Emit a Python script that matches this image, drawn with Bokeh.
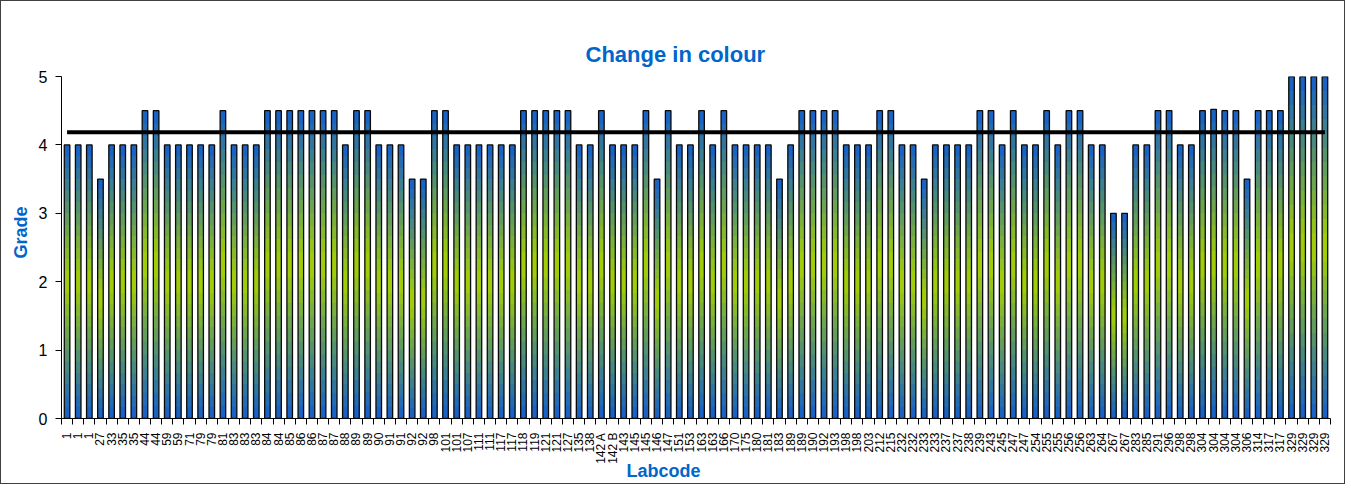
import numpy as np
from bokeh.plotting import figure
from bokeh.models import FixedTicker, Range1d, ColumnDataSource, Title
from bokeh.embed import file_html
from bokeh.resources import INLINE

labcodes = ["1", "1", "1", "27", "33", "35", "35", "44", "44", "59", "59", "71", "79", "79", "81", "83", "83", "83",
            "84", "84", "85", "86", "86", "87", "87", "88", "89", "89", "90", "91", "91", "92", "92", "98", "101", "101", "107",
            "111", "111", "117", "117", "118", "119", "121", "121", "127", "135", "138", "142 A", "142 B", "143", "145", "145", "146", "147", "151",
            "153", "163", "163", "166", "170", "175", "180", "181", "183", "189", "189", "190", "192", "193", "198", "198", "203", "212", "215",
            "232", "232", "233", "233", "237", "237", "238", "239", "243", "245", "247", "247", "254", "255", "255", "256", "256", "263", "264",
            "267", "267", "283", "285", "291", "296", "298", "298", "304", "304", "304", "304", "306", "314", "317", "317", "329", "329", "329", "329"]

grades = [4, 4, 4, 3.5, 4, 4, 4, 4.5, 4.5, 4, 4, 4, 4, 4, 4.5, 4, 4, 4,
          4.5, 4.5, 4.5, 4.5, 4.5, 4.5, 4.5, 4, 4.5, 4.5, 4, 4, 4, 3.5, 3.5, 4.5, 4.5, 4, 4,
          4, 4, 4, 4, 4.5, 4.5, 4.5, 4.5, 4.5, 4, 4, 4.5, 4, 4, 4, 4.5, 3.5, 4.5, 4,
          4, 4.5, 4, 4.5, 4, 4, 4, 4, 3.5, 4, 4.5, 4.5, 4.5, 4.5, 4, 4, 4, 4.5, 4.5,
          4, 4, 3.5, 4, 4, 4, 4, 4.5, 4.5, 4, 4.5, 4, 4, 4.5, 4, 4.5, 4.5, 4, 4,
          3, 3, 4, 4, 4.5, 4.5, 4, 4, 4.5, 4.52, 4.5, 4.5, 3.5, 4.5, 4.5, 4.5, 5, 5, 5, 5]

title_text = "Change in colour"
x_title = "Labcode"
y_title = "Grade"
y_ticks = [0, 1, 2, 3, 4, 5]

n = len(grades)
idx = np.arange(n)
mean_grade = float(np.mean(grades))

BLUE = np.array([18, 94, 205])
GREEN = np.array([165, 210, 0])
K = 24
xs, bottoms, tops, colors = [], [], [], []
for i, g in enumerate(grades):
    for j in range(K):
        mid = (j + 0.5) / K
        t = 1 - abs(2 * mid - 1)
        c = BLUE * (1 - t) + GREEN * t
        xs.append(i)
        bottoms.append(g * j / K)
        tops.append(min(g, g * (j + 1) / K + 0.03))
        colors.append("#%02x%02x%02x" % tuple(int(round(v)) for v in c))
grad_src = ColumnDataSource(dict(x=xs, bottom=bottoms, top=tops, color=colors))
bar_src = ColumnDataSource(dict(x=idx, top=grades))

BLUE_TXT = "#0066cc"

p = figure(width=1345, height=484, output_backend="svg", toolbar_location=None,
           x_range=Range1d(-0.5, n - 0.5), y_range=Range1d(0, 5),
           min_border_left=60, min_border_right=16, min_border_top=75, min_border_bottom=67,
           styles={"border": "1px solid #404040"})
p.background_fill_color = "white"
p.border_fill_color = "white"
p.outline_line_color = None
p.xgrid.grid_line_color = None
p.ygrid.grid_line_color = None

p.title.text = title_text
p.title.align = "left"
p.title.offset = 524
p.title.standoff = 19
p.title.text_font = "Liberation Sans"
p.title.text_font_style = "bold"
p.title.text_font_size = "22px"
p.title.text_color = BLUE_TXT

x_title_obj = Title(text=x_title, align="left", offset=565,
                    text_font="Liberation Sans", text_font_style="bold",
                    text_font_size="18px", text_color=BLUE_TXT)
try:
    x_title_obj.standoff = -16
except Exception:
    x_title_obj.standoff = 0
p.add_layout(x_title_obj, "below")
p.add_layout(Title(text=y_title, align="right", offset=130, standoff=10,
                   text_font="Liberation Sans", text_font_style="bold",
                   text_font_size="18px", text_color=BLUE_TXT), "left")

p.vbar(x="x", bottom="bottom", top="top", width=0.5, source=grad_src,
       fill_color="color", line_color=None)
p.vbar(x="x", top="top", width=0.5, source=bar_src, fill_color=None,
       line_color="#0a0a0a", line_width=1.3)
p.line(x=[0, n - 1], y=[mean_grade, mean_grade], line_color="black", line_width=4)

xa = p.xaxis[0]
xa.ticker = FixedTicker(ticks=list(range(n)), minor_ticks=[i + 0.5 for i in range(-1, n)])
xa.major_label_overrides = {i: lab for i, lab in enumerate(labcodes)}
xa.major_label_orientation = np.pi / 2
xa.major_tick_out = 0
xa.major_tick_in = 0
xa.minor_tick_out = 6
xa.minor_tick_in = 0
xa.minor_tick_line_color = "black"
xa.axis_line_color = "black"
xa.major_label_standoff = 8
xa.major_label_text_font = "Liberation Sans"
xa.major_label_text_font_size = "12px"
xa.major_label_text_color = "black"

ya = p.yaxis[0]
ya.ticker = FixedTicker(ticks=y_ticks)
ya.major_tick_out = 6
ya.major_tick_in = 0
ya.minor_tick_line_color = None
ya.axis_line_color = "black"
ya.major_tick_line_color = "black"
ya.major_label_standoff = 8
ya.major_label_text_font = "Liberation Sans"
ya.major_label_text_font_size = "16px"
ya.major_label_text_color = "black"

open("out.html", "w").write(file_html(p, INLINE))
